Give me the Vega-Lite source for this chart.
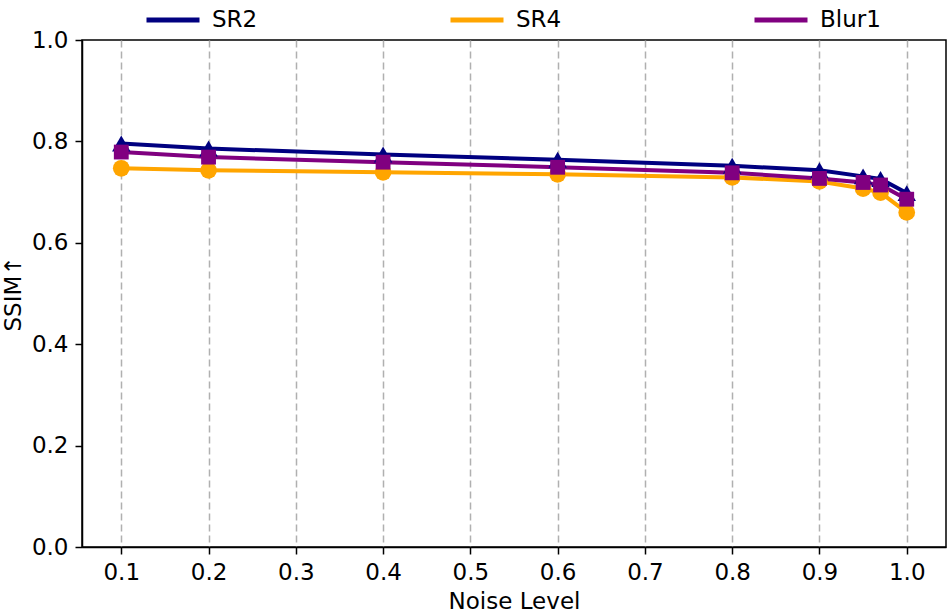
{
  "$schema": "https://vega.github.io/schema/vega-lite/v6.json",
  "description": "SSIM against noise level for three degradations.",
  "width": 864,
  "height": 507,
  "autosize": {"type": "none"},
  "padding": {"left": 82, "top": 40, "right": 5, "bottom": 69},
  "background": "white",
  "config": {
    "font": "DejaVu Sans",
    "view": {"stroke": "black", "strokeWidth": 1.5},
    "axis": {
      "labelFont": "DejaVu Sans",
      "titleFont": "DejaVu Sans",
      "labelFontSize": 23,
      "titleFontSize": 23,
      "titleFontWeight": "normal",
      "labelColor": "black",
      "titleColor": "black",
      "domainColor": "black",
      "domainWidth": 1.5,
      "tickColor": "black",
      "tickWidth": 1.5,
      "tickSize": 7,
      "labelPadding": 7
    }
  },
  "data": {
    "values": [
      {"noise": 0.1, "ssim": 0.796, "method": "SR2"},
      {"noise": 0.2, "ssim": 0.786, "method": "SR2"},
      {"noise": 0.4, "ssim": 0.774, "method": "SR2"},
      {"noise": 0.6, "ssim": 0.764, "method": "SR2"},
      {"noise": 0.8, "ssim": 0.752, "method": "SR2"},
      {"noise": 0.9, "ssim": 0.743, "method": "SR2"},
      {"noise": 0.95, "ssim": 0.731, "method": "SR2"},
      {"noise": 0.97, "ssim": 0.726, "method": "SR2"},
      {"noise": 1.0, "ssim": 0.698, "method": "SR2"},
      {"noise": 0.1, "ssim": 0.747, "method": "SR4"},
      {"noise": 0.2, "ssim": 0.743, "method": "SR4"},
      {"noise": 0.4, "ssim": 0.739, "method": "SR4"},
      {"noise": 0.6, "ssim": 0.735, "method": "SR4"},
      {"noise": 0.8, "ssim": 0.729, "method": "SR4"},
      {"noise": 0.9, "ssim": 0.721, "method": "SR4"},
      {"noise": 0.95, "ssim": 0.707, "method": "SR4"},
      {"noise": 0.97, "ssim": 0.699, "method": "SR4"},
      {"noise": 1.0, "ssim": 0.660, "method": "SR4"},
      {"noise": 0.1, "ssim": 0.779, "method": "Blur1"},
      {"noise": 0.2, "ssim": 0.769, "method": "Blur1"},
      {"noise": 0.4, "ssim": 0.759, "method": "Blur1"},
      {"noise": 0.6, "ssim": 0.749, "method": "Blur1"},
      {"noise": 0.8, "ssim": 0.738, "method": "Blur1"},
      {"noise": 0.9, "ssim": 0.727, "method": "Blur1"},
      {"noise": 0.95, "ssim": 0.719, "method": "Blur1"},
      {"noise": 0.97, "ssim": 0.714, "method": "Blur1"},
      {"noise": 1.0, "ssim": 0.686, "method": "Blur1"}
    ]
  },
  "encoding": {
    "x": {
      "field": "noise",
      "type": "quantitative",
      "scale": {"domain": [0.055, 1.045], "nice": false, "zero": false},
      "axis": {
        "title": "Noise Level",
        "values": [0.1, 0.2, 0.3, 0.4, 0.5, 0.6, 0.7, 0.8, 0.9, 1.0],
        "format": ".1f",
        "grid": true,
        "gridDash": [7, 4],
        "gridColor": "#b0b0b0",
        "gridWidth": 1.5,
        "titlePadding": 6
      }
    },
    "y": {
      "field": "ssim",
      "type": "quantitative",
      "scale": {"domain": [0, 1], "nice": false},
      "axis": {
        "title": "SSIM↑",
        "values": [0, 0.2, 0.4, 0.6, 0.8, 1.0],
        "format": ".1f",
        "grid": false,
        "titlePadding": 6
      }
    }
  },
  "layer": [
    {
      "mark": {"type": "line", "strokeWidth": 4},
      "encoding": {
        "color": {
          "field": "method",
          "type": "nominal",
          "scale": {"domain": ["SR2", "SR4", "Blur1"], "range": ["#000080", "#ffa500", "#800080"]},
          "legend": {
            "title": null,
            "orient": "none",
            "legendX": 62,
            "legendY": -49,
            "direction": "horizontal",
            "symbolType": "stroke",
            "symbolSize": 2809,
            "symbolStrokeWidth": 5,
            "labelFont": "DejaVu Sans",
            "labelFontSize": 23,
            "labelColor": "black",
            "labelOffset": 10,
            "columnPadding": 182
          }
        }
      }
    },
    {
      "mark": {"type": "point", "filled": true, "opacity": 1},
      "encoding": {
        "color": {
          "field": "method",
          "type": "nominal",
          "scale": {"domain": ["SR2", "SR4", "Blur1"], "range": ["#000080", "#ffa500", "#800080"]},
          "legend": null
        },
        "shape": {
          "field": "method",
          "type": "nominal",
          "scale": {"domain": ["SR2", "SR4", "Blur1"], "range": ["triangle-up", "circle", "square"]},
          "legend": null
        },
        "size": {
          "field": "method",
          "type": "nominal",
          "scale": {"domain": ["SR2", "SR4", "Blur1"], "range": [340, 220, 190]},
          "legend": null
        }
      }
    }
  ],
  "resolve": {"scale": {"color": "independent"}, "legend": {"color": "independent"}}
}
